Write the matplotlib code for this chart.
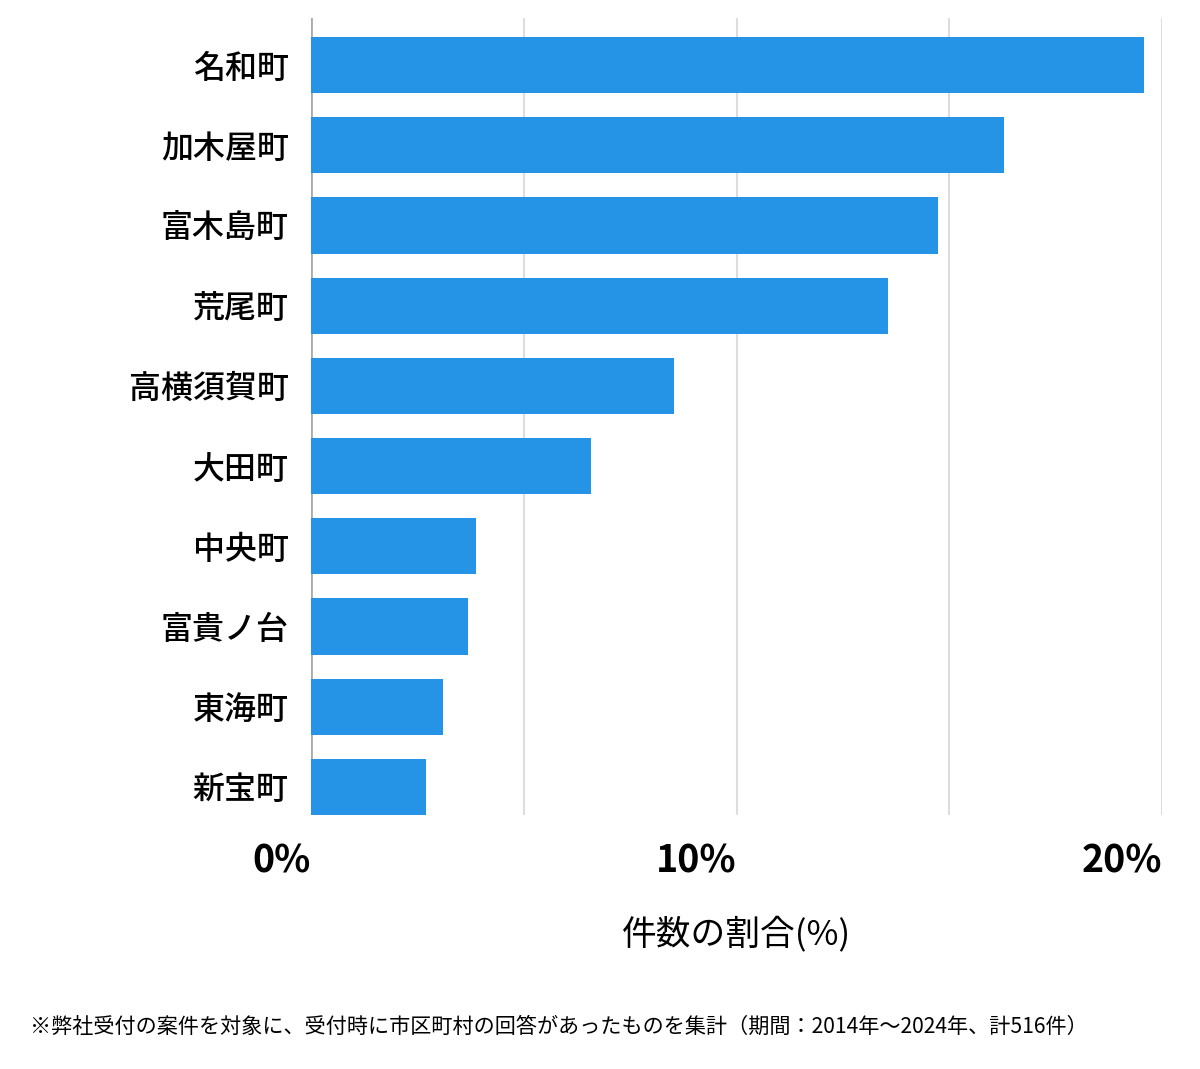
import matplotlib
matplotlib.use("Agg")
import matplotlib.pyplot as plt

# ─── Data ─────────────────────────────────────────────
towns = ["名和町", "加木屋町", "富木島町", "荒尾町", "高横須賀町",
         "大田町", "中央町", "富貴ノ台", "東海町", "新宝町"]
counts = [101, 84, 76, 70, 44, 34, 20, 19, 16, 14]
TOTAL = 516
shares = [c / TOTAL * 100 for c in counts]

tick_vals = [0, 5, 10, 15, 20]
tick_labels = ["0%", "", "10%", "", "20%"]

plt.rcParams["font.family"] = ["Noto Sans CJK JP", "DejaVu Sans"]

fig = plt.figure(figsize=(12, 10.69), dpi=100)
ax = fig.add_axes([311 / 1200, 1 - 815 / 1069, 851 / 1200, (815 - 18) / 1069])

ypos = list(range(len(towns)))
ax.barh(ypos, shares, height=0.7, color="#2593E6", zorder=3)

ax.set_xlim(0, 20)
ax.set_ylim(9.35, -0.586)

ax.set_yticks(ypos)
ax.set_yticklabels(towns, fontsize=23, fontweight="medium")
ax.set_xticks(tick_vals)
ax.set_xticklabels(tick_labels, fontsize=27, fontweight="bold")
for lab in ax.get_xticklabels():
    lab.set_horizontalalignment("right")
ax.tick_params(axis="both", length=0)
ax.tick_params(axis="y", pad=16)
ax.tick_params(axis="x", pad=19)

for v in tick_vals:
    ax.axvline(v, color="#aaaaaa" if v == 0 else "#dddddd",
               linewidth=2 if v == 0 else 1.5, zorder=1)

for s in ax.spines.values():
    s.set_visible(False)

ax.set_xlabel("件数の割合(%)", fontsize=25, labelpad=26)

fig.text(30 / 1200, 1 - 1027 / 1069,
         "※弊社受付の案件を対象に、受付時に市区町村の回答があったものを集計（期間：2014年〜2024年、計516件）",
         fontsize=15.2, va="center", ha="left")

fig.savefig("out.png", dpi=100)
